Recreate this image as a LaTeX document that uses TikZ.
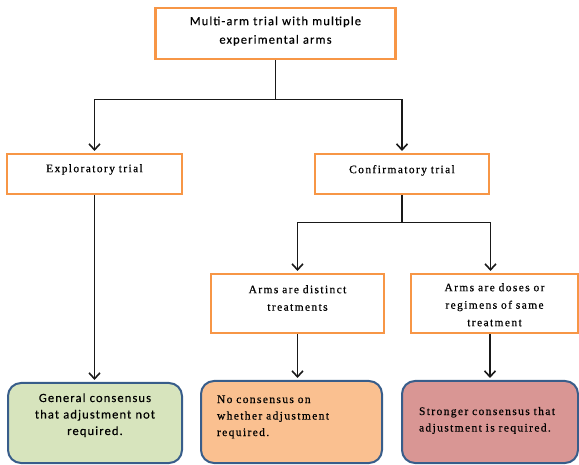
\documentclass[tikz,border=0pt]{standalone}
\usepackage{fontspec}
\usepackage{tikz}
\usetikzlibrary{arrows.meta,positioning,calc}
\newfontfamily\flowserif[LetterSpace=12,FakeBold=0.5]{Liberation Serif}
\newfontfamily\flowsans[LetterSpace=9,FakeBold=0.4]{Carlito}
\definecolor{boxorange}{HTML}{F79646}
\definecolor{boxblue}{HTML}{385D8A}
\definecolor{fillgreen}{HTML}{D7E4BD}
\definecolor{fillorange}{HTML}{FAC090}
\definecolor{fillred}{HTML}{D99694}
\tikzset{
  trialbox/.style={rectangle, draw=boxorange, line width=2.4pt, fill=white, align=center,
                   inner sep=0pt, anchor=north, font=\flowserif\fontsize{11.5}{17.5}\selectfont},
  outbox/.style={rectangle, rounded corners=13pt, draw=boxblue, line width=2pt,
                 inner ysep=0pt, anchor=north, font=\flowserif\fontsize{11.5}{16.5}\selectfont},
  flowarr/.style={-{Straight Barb[length=6pt,width=11pt,line width=1.6pt]}, line width=1.4pt,
                  draw=black!90, shorten >=2pt},
}
\begin{document}
\begin{tikzpicture}[x=1pt, y=-1pt]
    \useasboundingbox (0,0) rectangle (579,465);
    \node[trialbox, font=\flowsans\fontsize{12.5}{18.5}\selectfont, text width=240pt,
          text height=17pt, text depth=34pt] (multi) at (275.5,7)
          {Multi-arm trial with multiple\\experimental arms};
    \node[trialbox, text width=175pt, text height=18pt, text depth=22pt]
          (explor) at (94.5,153) {Exploratory trial};
    \node[trialbox, text width=174pt, text height=19pt, text depth=21pt]
          (confirm) at (402,153) {Confirmatory trial};
    \node[trialbox, text width=173pt, text height=19pt, text depth=40pt]
          (distinct) at (297.5,273) {Arms are distinct\\treatments};
    \node[trialbox, text width=167pt, text height=17pt, text depth=42pt]
          (doses) at (494.5,273) {Arms are doses or\\regimens of same\\treatment};
    % outcome boxes
    \node[outbox, fill=fillgreen, align=center, inner xsep=0pt, text width=174pt,
          font=\flowsans\fontsize{12.5}{16.5}\selectfont, text height=19pt, text depth=61pt]
          (general) at (95,382) {General consensus\\that adjustment not\\required.};
    \node[outbox, fill=fillorange, align=left, inner xsep=16pt, text width=149pt,
          text height=22pt, text depth=60pt]
          (nocons) at (291.5,380) {No consensus on\\whether adjustment\\required.};
    \node[outbox, fill=fillred, align=left, inner xsep=17pt, text width=142pt,
          text height=34pt, text depth=48pt]
          (stronger) at (490,380) {Stronger consensus that\\adjustment is required.};
    \draw[flowarr] (multi.south) -- ++(0,39) -| (explor.north);
    \draw[flowarr] (multi.south) -- ++(0,39) -| (confirm.north);
    \draw[flowarr] (explor.south) -- (explor.south |- general.north);
    \draw[flowarr] (confirm.south) -- ++(0,27) -| (distinct.north);
    \draw[flowarr] (confirm.south) -- ++(0,27) -| ([xshift=-4pt]doses.north);
    \draw[flowarr] (distinct.south) -- (distinct.south |- nocons.north);
    \draw[flowarr] (doses.south -| stronger.north) -- (stronger.north);
\end{tikzpicture}
\end{document}
